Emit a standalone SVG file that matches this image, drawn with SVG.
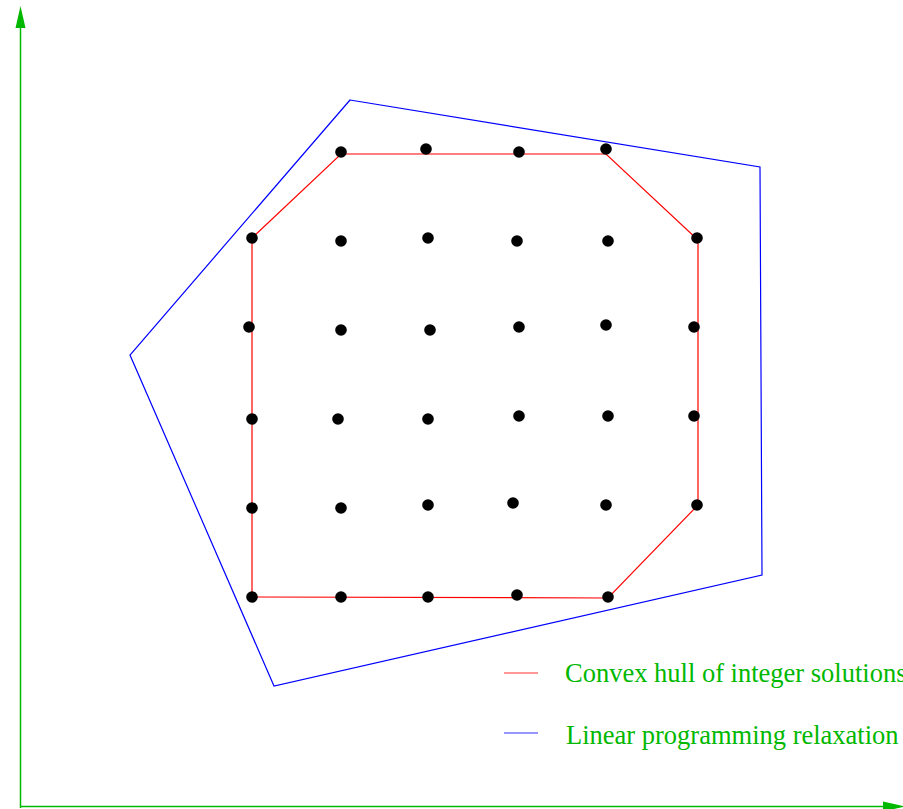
<svg xmlns="http://www.w3.org/2000/svg" width="903" height="809" viewBox="0 0 903 809">
<style>
.axis{stroke:#00b800;stroke-width:1.5;fill:none}
.dot{fill:#000}
.legend{font-family:"Liberation Serif","Times New Roman",serif;font-size:26.5px;fill:#00b800}
</style>
<rect width="903" height="809" fill="#fff"/>
<g id="axes">
<line class="axis" x1="20.5" y1="808" x2="20.5" y2="25"/>
<polygon points="20.5,6 15.5,28 25.5,28" fill="#00b800"/>
<line class="axis" x1="20" y1="806.5" x2="888" y2="806.5"/>
<polygon points="905,806.5 883,801.5 883,811.5" fill="#00b800"/>
</g>
<g id="connectors">
<polygon id="lp" points="350,100 760,167 762,575 274,686 130,355" fill="none" stroke="#0000ff" stroke-width="1.2"/>
<polygon id="hull" points="341,154 606,154 698,240 698,505 608,598 252,597 252,238" fill="none" stroke="#ff0000" stroke-width="1.2"/>
</g>
<g id="points">
<circle class="dot" cx="341" cy="152" r="5.8"/>
<circle class="dot" cx="426" cy="149" r="5.8"/>
<circle class="dot" cx="519" cy="152" r="5.8"/>
<circle class="dot" cx="606" cy="149" r="5.8"/>
<circle class="dot" cx="252" cy="238" r="5.8"/>
<circle class="dot" cx="341" cy="241" r="5.8"/>
<circle class="dot" cx="428" cy="238" r="5.8"/>
<circle class="dot" cx="517" cy="241" r="5.8"/>
<circle class="dot" cx="608" cy="241" r="5.8"/>
<circle class="dot" cx="697" cy="238" r="5.8"/>
<circle class="dot" cx="249" cy="327" r="5.8"/>
<circle class="dot" cx="341" cy="330" r="5.8"/>
<circle class="dot" cx="430" cy="330" r="5.8"/>
<circle class="dot" cx="519" cy="327" r="5.8"/>
<circle class="dot" cx="606" cy="325" r="5.8"/>
<circle class="dot" cx="694" cy="327" r="5.8"/>
<circle class="dot" cx="252" cy="419" r="5.8"/>
<circle class="dot" cx="338" cy="419" r="5.8"/>
<circle class="dot" cx="428" cy="419" r="5.8"/>
<circle class="dot" cx="519" cy="416" r="5.8"/>
<circle class="dot" cx="608" cy="416" r="5.8"/>
<circle class="dot" cx="694" cy="416" r="5.8"/>
<circle class="dot" cx="252" cy="508" r="5.8"/>
<circle class="dot" cx="341" cy="508" r="5.8"/>
<circle class="dot" cx="428" cy="505" r="5.8"/>
<circle class="dot" cx="513" cy="503" r="5.8"/>
<circle class="dot" cx="606" cy="505" r="5.8"/>
<circle class="dot" cx="697" cy="505" r="5.8"/>
<circle class="dot" cx="252" cy="597" r="5.8"/>
<circle class="dot" cx="341" cy="597" r="5.8"/>
<circle class="dot" cx="428" cy="597" r="5.8"/>
<circle class="dot" cx="517" cy="595" r="5.8"/>
<circle class="dot" cx="608" cy="597" r="5.8"/>
</g>
<g id="legend">
<line x1="504" y1="673" x2="538" y2="673" stroke="#ff3030" stroke-width="1.2"/>
<text class="legend" x="565" y="682">Convex hull of integer solutions</text>
<line x1="504" y1="733" x2="538" y2="733" stroke="#3030ff" stroke-width="1.2"/>
<text class="legend" x="566" y="744">Linear programming relaxation</text>
</g>
</svg>
